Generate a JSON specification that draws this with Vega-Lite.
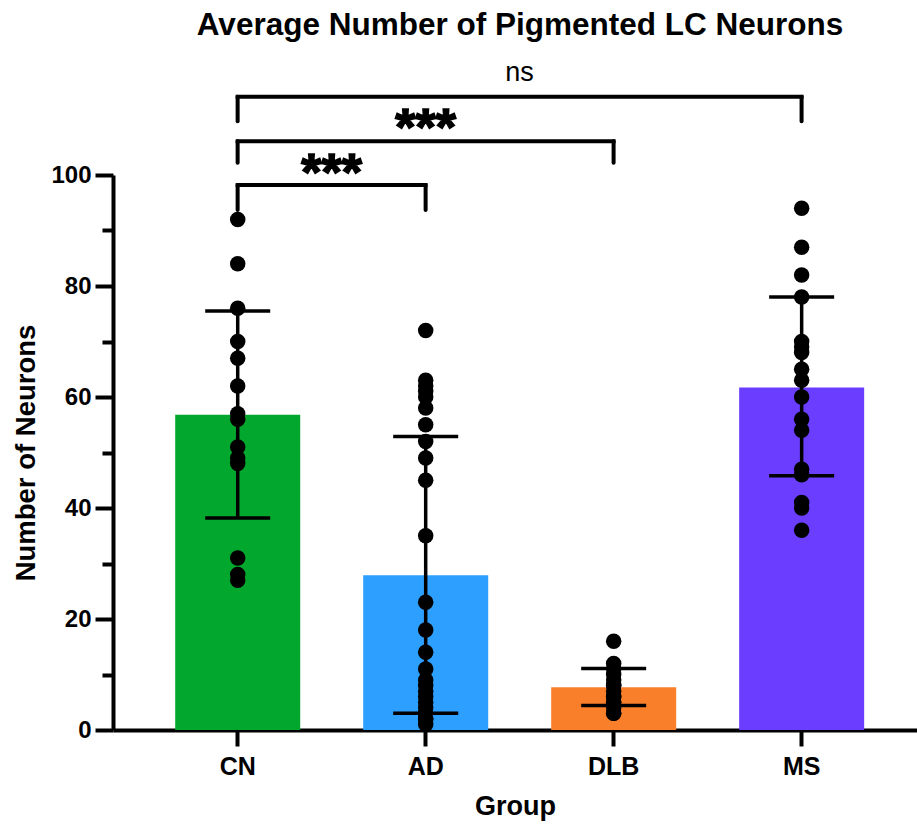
{
  "$schema": "https://vega.github.io/schema/vega-lite/v6.json",
  "width": 804,
  "height": 555,
  "autosize": {"type": "none"},
  "padding": {"left": 113, "top": 175, "right": 0, "bottom": 94},
  "background": "white",
  "config": {
    "font": "Liberation Sans",
    "view": {"stroke": null},
    "axis": {"domainColor": "black", "tickColor": "black", "labelColor": "black", "titleColor": "black", "grid": false}
  },
  "title": {
    "text": "Average Number of Pigmented LC Neurons",
    "font": "Liberation Sans",
    "fontSize": 31.5,
    "fontWeight": "bold",
    "color": "black",
    "anchor": "middle",
    "offset": 18,
    "dx": 5
  },
  "datasets": {
    "points": [
      {"group": "CN", "value": 92}, {"group": "CN", "value": 84}, {"group": "CN", "value": 76},
      {"group": "CN", "value": 70}, {"group": "CN", "value": 67}, {"group": "CN", "value": 62},
      {"group": "CN", "value": 57}, {"group": "CN", "value": 56}, {"group": "CN", "value": 51},
      {"group": "CN", "value": 49}, {"group": "CN", "value": 48}, {"group": "CN", "value": 31},
      {"group": "CN", "value": 28}, {"group": "CN", "value": 27},
      {"group": "AD", "value": 72}, {"group": "AD", "value": 63}, {"group": "AD", "value": 62},
      {"group": "AD", "value": 61}, {"group": "AD", "value": 60}, {"group": "AD", "value": 58},
      {"group": "AD", "value": 55}, {"group": "AD", "value": 52}, {"group": "AD", "value": 49},
      {"group": "AD", "value": 45}, {"group": "AD", "value": 35}, {"group": "AD", "value": 23},
      {"group": "AD", "value": 18}, {"group": "AD", "value": 14}, {"group": "AD", "value": 11},
      {"group": "AD", "value": 9}, {"group": "AD", "value": 8}, {"group": "AD", "value": 7},
      {"group": "AD", "value": 6}, {"group": "AD", "value": 5}, {"group": "AD", "value": 4},
      {"group": "AD", "value": 3}, {"group": "AD", "value": 3}, {"group": "AD", "value": 2},
      {"group": "AD", "value": 2}, {"group": "AD", "value": 1},
      {"group": "DLB", "value": 16}, {"group": "DLB", "value": 12}, {"group": "DLB", "value": 11},
      {"group": "DLB", "value": 10}, {"group": "DLB", "value": 9}, {"group": "DLB", "value": 8},
      {"group": "DLB", "value": 8}, {"group": "DLB", "value": 7}, {"group": "DLB", "value": 6},
      {"group": "DLB", "value": 6}, {"group": "DLB", "value": 5}, {"group": "DLB", "value": 5},
      {"group": "DLB", "value": 4}, {"group": "DLB", "value": 3}, {"group": "DLB", "value": 3},
      {"group": "MS", "value": 94}, {"group": "MS", "value": 87}, {"group": "MS", "value": 82},
      {"group": "MS", "value": 78}, {"group": "MS", "value": 70}, {"group": "MS", "value": 69},
      {"group": "MS", "value": 68}, {"group": "MS", "value": 65}, {"group": "MS", "value": 63},
      {"group": "MS", "value": 60}, {"group": "MS", "value": 56}, {"group": "MS", "value": 54},
      {"group": "MS", "value": 47}, {"group": "MS", "value": 46}, {"group": "MS", "value": 41},
      {"group": "MS", "value": 40}, {"group": "MS", "value": 36}
    ],
    "summary": [
      {"group": "CN", "mean": 56.8, "lo": 38.2, "hi": 75.5},
      {"group": "AD", "mean": 27.9, "lo": 3.0, "hi": 52.9},
      {"group": "DLB", "mean": 7.7, "lo": 4.4, "hi": 11.1},
      {"group": "MS", "mean": 61.7, "lo": 45.8, "hi": 78.0}
    ],
    "brackets": [
      {"from": 1, "to": 2, "y": 98.2, "ylow": 93.7, "label": "***", "lx": 1.5, "ly": 100.2, "sig": "star"},
      {"from": 1, "to": 3, "y": 106.1, "ylow": 102.2, "label": "***", "lx": 2.0, "ly": 108.2, "sig": "star"},
      {"from": 1, "to": 4, "y": 114.1, "ylow": 109.7, "label": "ns", "lx": 2.5, "ly": 118.3, "sig": "ns"}
    ]
  },
  "layer": [
    {
      "encoding": {
        "x": {
          "field": "group",
          "type": "nominal",
          "scale": {"domain": ["CN", "AD", "DLB", "MS"], "paddingInner": 0.335, "paddingOuter": 0.306, "align": 0.5407},
          "axis": {
            "title": "Group",
            "titleFontSize": 27,
            "titleFontWeight": "bold",
            "titlePadding": 14,
            "labelFontSize": 25,
            "labelFontWeight": "bold",
            "labelAngle": 0,
            "labelPadding": 8,
            "tickSize": 16,
            "tickWidth": 4,
            "domainWidth": 4
          }
        }
      },
      "layer": [
        {
          "data": {"name": "summary"},
          "mark": {"type": "bar", "opacity": 1},
          "encoding": {
            "y": {
              "field": "mean",
              "type": "quantitative",
              "scale": {"domain": [0, 100], "nice": false, "zero": true},
              "axis": {
                "title": "Number of Neurons",
                "titleFontSize": 27.5,
                "titleFontWeight": "bold",
                "titlePadding": 10,
                "values": [0, 10, 20, 30, 40, 50, 60, 70, 80, 90, 100],
                "labelExpr": "datum.value % 20 === 0 ? datum.label : ''",
                "labelFontSize": 24,
                "labelFontWeight": "bold",
                "labelPadding": 4,
                "tickSize": {"condition": {"test": "datum.value % 20 === 0", "value": 18}, "value": 11},
                "tickWidth": 4,
                "domainWidth": 4
              }
            },
            "color": {
              "field": "group",
              "type": "nominal",
              "scale": {"domain": ["CN", "AD", "DLB", "MS"], "range": ["#02A82E", "#2D9FFF", "#F97F2B", "#6A3DFF"]},
              "legend": null
            }
          }
        },
        {
          "data": {"name": "summary"},
          "mark": {"type": "rule", "color": "black", "strokeWidth": 3.5},
          "encoding": {
            "y": {"field": "lo", "type": "quantitative"},
            "y2": {"field": "hi"}
          }
        },
        {
          "data": {"name": "summary"},
          "mark": {"type": "tick", "color": "black", "thickness": 3.5, "size": 65, "opacity": 1},
          "encoding": {"y": {"field": "lo", "type": "quantitative"}}
        },
        {
          "data": {"name": "summary"},
          "mark": {"type": "tick", "color": "black", "thickness": 3.5, "size": 65, "opacity": 1},
          "encoding": {"y": {"field": "hi", "type": "quantitative"}}
        },
        {
          "data": {"name": "points"},
          "mark": {"type": "circle", "color": "black", "size": 240, "opacity": 1},
          "encoding": {"y": {"field": "value", "type": "quantitative"}}
        }
      ]
    },
    {
      "data": {"name": "brackets"},
      "encoding": {
        "y": {"field": "y", "type": "quantitative"}
      },
      "layer": [
        {
          "mark": {"type": "rule", "color": "black", "strokeWidth": 4, "strokeCap": "square"},
          "encoding": {
            "x": {"field": "from", "type": "quantitative", "scale": {"domain": [0.337, 4.614], "nice": false, "zero": false}, "axis": null},
            "x2": {"field": "to"}
          }
        },
        {
          "mark": {"type": "rule", "color": "black", "strokeWidth": 4, "strokeCap": "round"},
          "encoding": {
            "x": {"field": "from", "type": "quantitative", "scale": {"domain": [0.337, 4.614], "nice": false, "zero": false}, "axis": null},
            "y2": {"field": "ylow"}
          }
        },
        {
          "mark": {"type": "rule", "color": "black", "strokeWidth": 4, "strokeCap": "round"},
          "encoding": {
            "x": {"field": "to", "type": "quantitative", "scale": {"domain": [0.337, 4.614], "nice": false, "zero": false}, "axis": null},
            "y2": {"field": "ylow"}
          }
        },
        {
          "transform": [{"filter": "datum.sig === 'star'"}],
          "mark": {"type": "text", "color": "black", "stroke": "black", "strokeWidth": 1.6, "baseline": "middle", "align": "center", "font": "Liberation Sans", "fontWeight": "bold", "fontSize": 52},
          "encoding": {
            "x": {"field": "lx", "type": "quantitative", "scale": {"domain": [0.337, 4.614], "nice": false, "zero": false}, "axis": null},
            "y": {"field": "ly", "type": "quantitative"},
            "text": {"field": "label"}
          }
        },
        {
          "transform": [{"filter": "datum.sig === 'ns'"}],
          "mark": {"type": "text", "color": "black", "baseline": "middle", "align": "center", "font": "Liberation Sans", "fontWeight": "normal", "fontSize": 27},
          "encoding": {
            "x": {"field": "lx", "type": "quantitative", "scale": {"domain": [0.337, 4.614], "nice": false, "zero": false}, "axis": null},
            "y": {"field": "ly", "type": "quantitative"},
            "text": {"field": "label"}
          }
        }
      ]
    }
  ],
  "resolve": {"scale": {"x": "independent"}, "axis": {"x": "independent"}}
}
